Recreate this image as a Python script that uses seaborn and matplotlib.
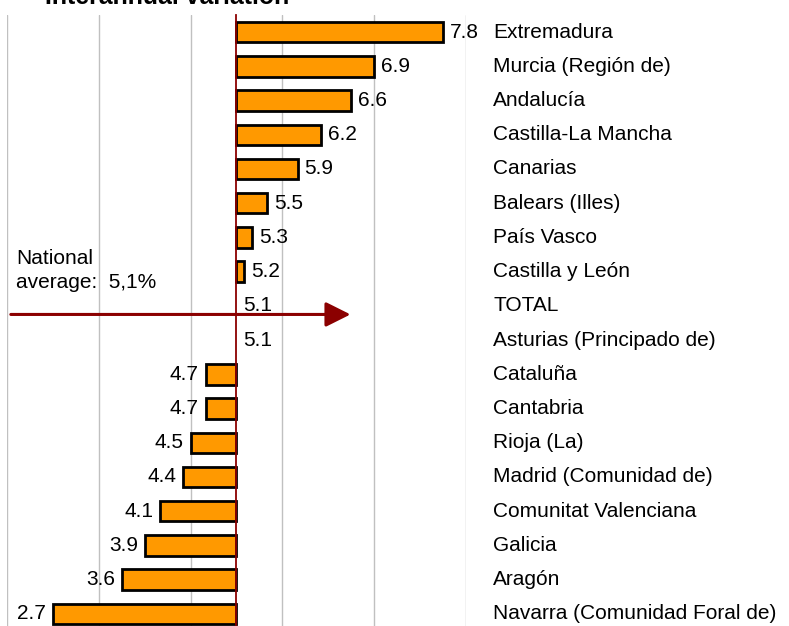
import numpy as np
import pandas as pd
import matplotlib
matplotlib.use("Agg")
import matplotlib.pyplot as plt
import matplotlib.transforms as mtransforms
import seaborn as sns

# data (top to bottom)
regions = ["Extremadura", "Murcia (Región de)", "Andalucía", "Castilla-La Mancha",
           "Canarias", "Balears (Illes)", "País Vasco", "Castilla y León", "TOTAL",
           "Asturias (Principado de)", "Cataluña", "Cantabria", "Rioja (La)",
           "Madrid (Comunidad de)", "Comunitat Valenciana", "Galicia", "Aragón",
           "Navarra (Comunidad Foral de)"]
values = [7.8, 6.9, 6.6, 6.2, 5.9, 5.5, 5.3, 5.2, 5.1, 5.1, 4.7, 4.7, 4.5, 4.4,
          4.1, 3.9, 3.6, 2.7]
national_avg = 5.1
grid_values = [2.1, 3.3, 4.5, 5.7, 6.9, 8.1]

title = "Interannual variation"
note = "National\naverage:  5,1%"

dark_red = "#8b0000"
orange = "#ff9900"
fs = 15

df = pd.DataFrame({"region": regions, "value": values})
df["diff"] = df["value"] - national_avg

sns.set_theme(style="white")
plt.rcParams["font.family"] = ["Liberation Sans", "DejaVu Sans"]

W, H = 789, 626
fig = plt.figure(figsize=(W / 100, H / 100), dpi=100)
# plot area runs a bit below the visible bottom edge (as in the cropped source)
ax = fig.add_axes([7 / W, 1 - 631 / H, 459 / W, 616 / H])

sns.barplot(data=df, x="diff", y="region", color=orange, saturation=1,
            edgecolor="black", linewidth=2, width=0.6, ax=ax, zorder=3)
for p in ax.patches:
    if abs(p.get_width()) < 1e-9:
        p.set_linewidth(0)

ax.set_xlim(grid_values[0] - national_avg, grid_values[-1] - national_avg)
ax.set_ylim(len(regions) - 0.5, -0.5)
ax.set_xticks([g - national_avg for g in grid_values])
ax.set_xticklabels([])
ax.xaxis.grid(True, color="#c0c0c0", linewidth=1)
ax.yaxis.grid(False)
ax.set_xlabel("")
ax.set_ylabel("")
ax.tick_params(axis="x", length=0)

for s in ["top", "right", "bottom"]:
    ax.spines[s].set_visible(False)
ax.spines["left"].set_position(("data", 0))
ax.spines["left"].set_color(dark_red)
ax.spines["left"].set_linewidth(1.3)
ax.spines["left"].set_zorder(5)

ax.set_yticks(range(len(regions)))
ax.set_yticklabels([])
ax.tick_params(axis="y", which="major", length=0)
ax.set_yticks(np.arange(-0.5, len(regions), 1.0), minor=True)
ax.tick_params(axis="y", which="minor", direction="inout", length=9.5,
               width=1.3, color="#b24444")

# value labels
for i, (v, d) in enumerate(zip(values, df["diff"])):
    if d < 0:
        ax.annotate(f"{v:.1f}", xy=(d, i), xytext=(-5, 0), textcoords="offset points",
                    ha="right", va="center", fontsize=fs, color="black", zorder=6)
    else:
        ax.annotate(f"{v:.1f}", xy=(d, i), xytext=(5, 0), textcoords="offset points",
                    ha="left", va="center", fontsize=fs, color="black", zorder=6)

# category labels on the right
trans = mtransforms.blended_transform_factory(fig.transFigure, ax.transData)
for i, r in enumerate(regions):
    ax.text(493 / W, i, r, transform=trans, ha="left", va="center",
            fontsize=fs, color="black", clip_on=False)

# national average arrow
ax.annotate("", xy=(1.49, 8.25), xytext=(-2.95, 8.25),
            arrowprops=dict(arrowstyle="-|>", color=dark_red, lw=2.2,
                            mutation_scale=38, shrinkA=0, shrinkB=0),
            zorder=4, annotation_clip=False)

fig.text(16 / W, 1 - 249 / H, note, ha="left", va="top", fontsize=fs,
         linespacing=1.3, color="black")

# title is cut off at the top edge, as in the source picture
fig.text(45 / W, 1 - 4 / H, title, ha="left", va="baseline", fontsize=17.9,
         fontweight="bold", color="black")

fig.savefig("out.png", dpi=100)
